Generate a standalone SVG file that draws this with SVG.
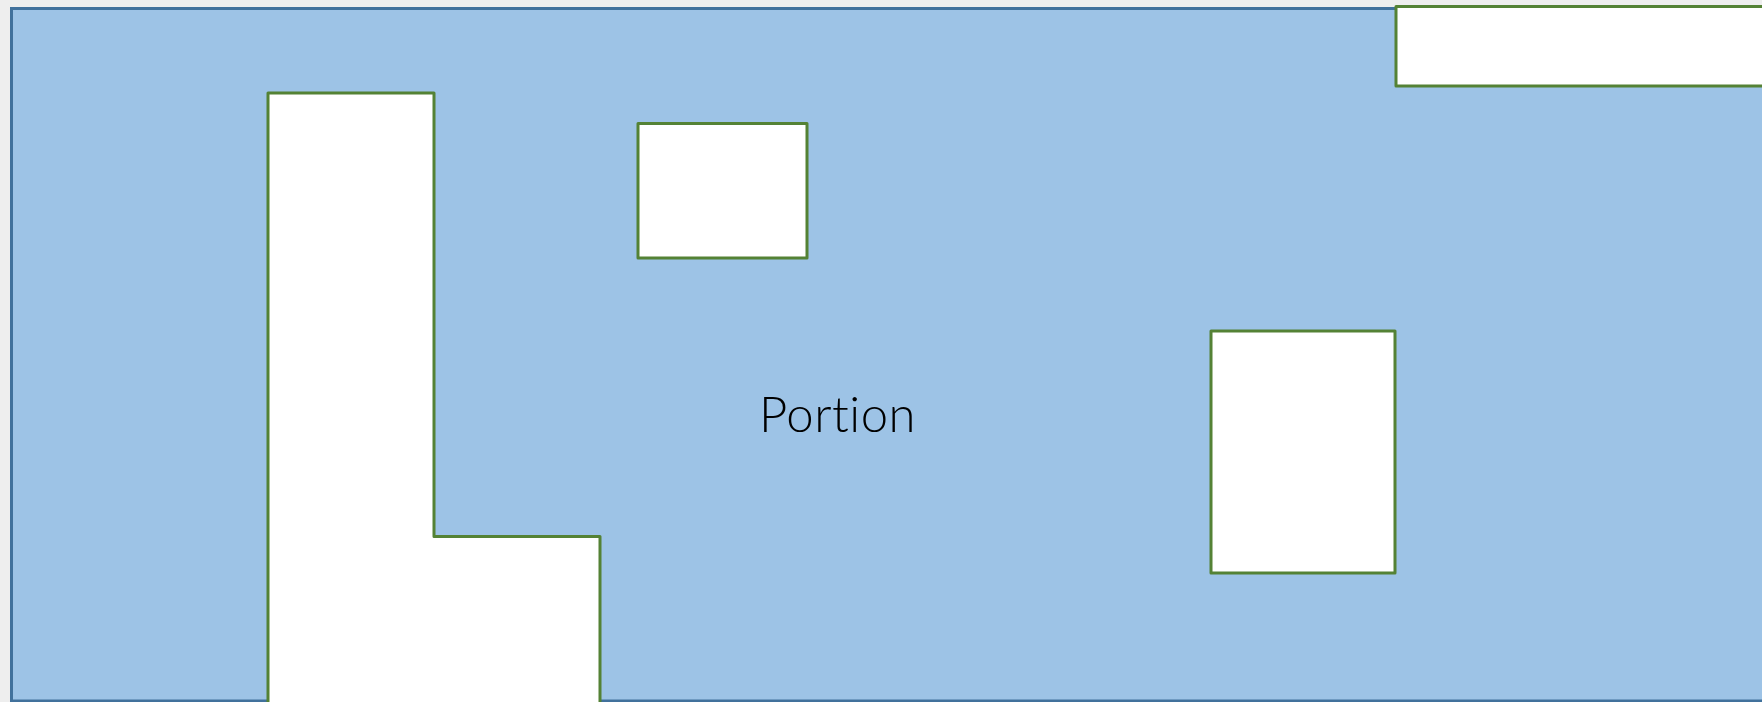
<svg xmlns="http://www.w3.org/2000/svg" width="1762" height="702" viewBox="0 0 1762 702">
<style>
.hole{fill:#ffffff;stroke:#548235;stroke-width:3;stroke-linejoin:round}
.label{font-family:Lato,"Liberation Sans",Arial,sans-serif;font-weight:300;font-size:49px;fill:#000000;font-variant-ligatures:none;font-feature-settings:"liga" 0,"clig" 0;letter-spacing:0.5px}
</style>
<rect x="0" y="0" width="1762" height="702" fill="#eeeeee"/>
<g id="portion">
<rect x="11.5" y="8.5" width="1800" height="692.5" fill="#9dc3e6" stroke="#41719c" stroke-width="3"/>
<text class="label" x="837.5" y="431.5" text-anchor="middle">Portion</text>
</g>
<g id="hole-top-right"><rect class="hole" x="1396" y="6.5" width="420" height="79.5"/></g>
<g id="hole-L"><path class="hole" d="M268,93 H434 V536.5 H600 V730 H268 Z"/></g>
<g id="hole-small"><rect class="hole" x="638" y="123.5" width="169" height="134.5"/></g>
<g id="hole-right"><rect class="hole" x="1211" y="331" width="184" height="242"/></g>
<g id="connectors"></g>
</svg>
